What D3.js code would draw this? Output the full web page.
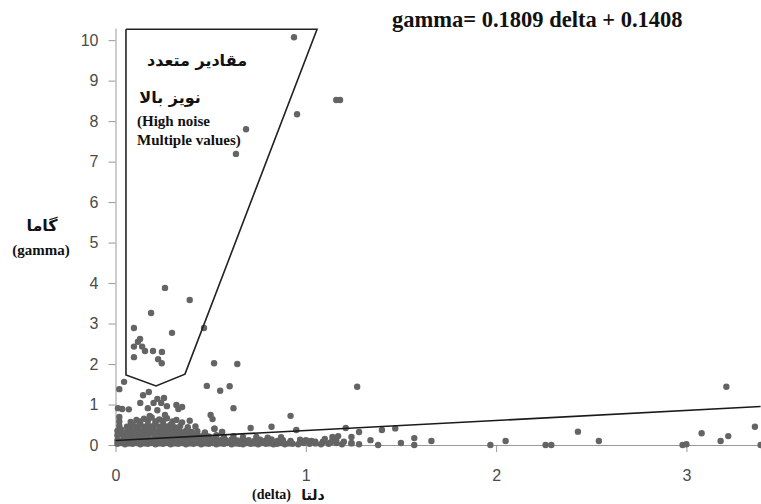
<!DOCTYPE html>
<html>
<head>
<meta charset="utf-8">
<script src="https://cdn.jsdelivr.net/npm/d3@7"></script>
<style>
  body { margin: 0; background: #fff; }
  svg { display: block; }
  .tick text { font-family: "Liberation Sans", Arial, sans-serif; font-size: 16px; fill: #4a4a4a; }
  .tick line, .domain { stroke: #999; }
  .serif-b { font-family: "Liberation Serif", "Times New Roman", serif; font-weight: bold; fill: #111; }
  .fa-b { font-family: "DejaVu Sans", sans-serif; font-weight: bold; fill: #111; }
</style>
</head>
<body>
<div id="chart"></div>
<script>
// ---- data ----
const xTicks = [0, 1, 2, 3];
const yTicks = [0, 1, 2, 3, 4, 5, 6, 7, 8, 9, 10];

// dense band along the bottom
const bandLow = [[0.01,0.03],[0.03,0.05],[0.05,0.02],[0.07,0.04],[0.09,0.03],[0.11,0.05],[0.13,0.02],[0.15,0.04],[0.17,0.03],[0.19,0.05],[0.21,0.02],[0.23,0.04],[0.25,0.03],[0.27,0.05],[0.29,0.02],[0.31,0.04],[0.33,0.03],[0.35,0.05],[0.37,0.02],[0.39,0.04],[0.41,0.03],[0.43,0.05],[0.45,0.02],[0.47,0.04],[0.49,0.03],[0.51,0.05],[0.53,0.02],[0.55,0.04],[0.57,0.03],[0.59,0.05],[0.61,0.02],[0.63,0.04],[0.65,0.03],[0.67,0.02],[0.69,0.05],[0.71,0.03],[0.73,0.04],[0.75,0.02],[0.77,0.05],[0.79,0.03],[0.81,0.04],[0.83,0.02],[0.85,0.03],[0.87,0.05],[0.89,0.02],[0.91,0.04],[0.93,0.03],[0.96,0.02],[0.99,0.05],[1.02,0.03],[1.05,0.04],[1.08,0.02],[1.12,0.03],[1.16,0.05],[1.19,0.02],[1.24,0.04],[1.28,0.02]];
const bandMid = [[0.01,0.12],[0.04,0.14],[0.06,0.11],[0.08,0.15],[0.10,0.12],[0.12,0.14],[0.14,0.11],[0.16,0.15],[0.18,0.12],[0.20,0.14],[0.22,0.11],[0.24,0.15],[0.26,0.12],[0.28,0.14],[0.30,0.11],[0.32,0.15],[0.34,0.12],[0.36,0.14],[0.38,0.11],[0.40,0.15],[0.42,0.12],[0.44,0.14],[0.46,0.11],[0.48,0.13],[0.50,0.12],[0.52,0.15],[0.54,0.11],[0.56,0.13],[0.58,0.12],[0.61,0.14],[0.64,0.11],[0.67,0.13],[0.70,0.12],[0.73,0.10],[0.76,0.13],[0.79,0.11],[0.82,0.14],[0.85,0.10],[0.88,0.12],[0.92,0.10],[0.97,0.13],[1.03,0.10],[1.09,0.08],[1.14,0.11]];
// the blob near the origin
const blob1 = [[0.01,0.24],[0.03,0.27],[0.05,0.22],[0.07,0.26],[0.09,0.23],[0.11,0.27],[0.13,0.22],[0.15,0.26],[0.17,0.24],[0.19,0.28],[0.21,0.22],[0.23,0.26],[0.25,0.23],[0.27,0.27],[0.29,0.22],[0.31,0.25],[0.33,0.23],[0.35,0.27],[0.37,0.22],[0.39,0.25],[0.41,0.22],[0.43,0.26],[0.46,0.23],[0.49,0.21],[0.53,0.24],[0.57,0.2],[0.62,0.22],[0.67,0.19],[0.74,0.2],[0.8,0.18],[0.87,0.19]];
const blob2 = [[0.01,0.35],[0.03,0.38],[0.06,0.33],[0.08,0.37],[0.10,0.34],[0.12,0.38],[0.14,0.33],[0.16,0.37],[0.18,0.35],[0.20,0.39],[0.22,0.33],[0.24,0.37],[0.26,0.34],[0.28,0.38],[0.30,0.33],[0.32,0.36],[0.34,0.33],[0.37,0.35],[0.40,0.32],[0.43,0.34],[0.47,0.31],[0.52,0.4],[0.56,0.32]];
const blob3 = [[0.02,0.47],[0.06,0.45],[0.09,0.5],[0.11,0.46],[0.13,0.51],[0.15,0.45],[0.17,0.49],[0.19,0.46],[0.21,0.52],[0.23,0.45],[0.25,0.49],[0.27,0.46],[0.29,0.5],[0.31,0.44],[0.34,0.47],[0.38,0.44],[0.42,0.46]];
const blobTop = [[0.02,0.58],[0.08,0.57],[0.11,0.62],[0.13,0.58],[0.15,0.65],[0.17,0.6],[0.19,0.68],[0.21,0.58],[0.23,0.63],[0.25,0.6],[0.27,0.66],[0.30,0.58],[0.32,0.62],[0.35,0.56],[0.39,0.6],[0.02,0.69],[0.18,0.72],[0.26,0.74]];
// scattered points above the blob
const nearBlob = [[0.013,0.91],[0.035,0.89],[0.07,0.88],[0.17,0.91],[0.22,0.86],[0.13,1.04],[0.2,1.04],[0.24,1.04],[0.27,0.96],[0.32,0.99],[0.33,0.89],[0.35,0.94],[0.22,1.14],[0.255,1.16],[0.145,1.23],[0.175,1.31],[0.02,1.38],[0.045,1.56],
  [0.48,1.46],[0.55,1.34],[0.6,1.45],[0.62,0.91],[0.5,0.74],[0.51,0.64],[0.52,0.4],[0.56,0.32],[0.71,0.42],[0.82,0.45],[0.92,0.72],[0.95,0.37],[0.518,2.02],[0.64,2.0]];
// points inside the high-noise region
const noisy = [[0.26,3.88],[0.39,3.58],[0.187,3.26],[0.097,2.89],[0.297,2.77],[0.465,2.89],[0.118,2.55],[0.129,2.62],[0.097,2.43],[0.14,2.43],[0.155,2.32],[0.197,2.32],[0.244,2.3],[0.224,2.12],[0.243,2.02],[0.097,2.17],
  [0.938,10.07],[0.954,8.17],[1.16,8.52],[1.18,8.52],[0.686,7.8],[0.633,7.19]];
// long tail to the right
const tail = [[1.0,0.12],[1.01,0.1],[1.05,0.08],[1.09,0.07],[1.1,0.15],[1.13,0.06],[1.14,0.2],[1.16,0.12],[1.17,0.22],[1.2,0.08],[1.21,0.42],[1.24,0.2],[1.24,0.05],[1.27,1.44],[1.28,0.32],[1.34,0.12],[1.38,0.0],[1.4,0.37],[1.47,0.41],[1.5,0.05],[1.57,0.17],[1.57,0.0],[1.66,0.1],[1.97,0.0],[2.05,0.1],[2.26,0.0],[2.29,0.0],[2.43,0.33],[2.54,0.1],[2.98,0.0],[3.0,0.02],[3.08,0.29],[3.18,0.1],[3.22,0.22],[3.21,1.44],[3.36,0.45],[3.39,0.0]];

// fitted line as drawn (end points)
const trendDelta = [0, 3.39];
const trendGamma = [0.11, 0.95];

// outline of the "high noise" region, in data units
const regionDelta = [0.055, 1.059, 0.365, 0.213, 0.055, 0.055];
const regionGamma = [10.27, 10.27, 1.75, 1.46, 1.73, 10.27];

const points = [].concat(bandLow, bandMid, blob1, blob2, blob3, blobTop, nearBlob, noisy, tail);

// ---- layout ----
const W = 761, H = 504;
const svg = d3.select("#chart").append("svg").attr("width", W).attr("height", H);

const x = d3.scaleLinear().domain([0, 3.392]).range([115.5, 761]);
const y = d3.scaleLinear().domain([0, 10.3]).range([445, 28]);

// axes
svg.append("g")
  .attr("transform", `translate(0,${y(0)})`)
  .call(d3.axisBottom(x).tickValues(xTicks).tickFormat(d3.format("d"))
    .tickSize(7).tickSizeOuter(0).tickPadding(18));

svg.append("g")
  .attr("transform", `translate(${x(0)},0)`)
  .call(d3.axisLeft(y).tickValues(yTicks).tickFormat(d3.format("d"))
    .tickSize(7).tickSizeOuter(0).tickPadding(10));

// dots
svg.append("g").selectAll("circle")
  .data(points)
  .join("circle")
  .attr("cx", d => x(d[0]))
  .attr("cy", d => y(d[1]))
  .attr("r", 3.2)
  .attr("fill", "#646464");

// trend line
svg.append("line")
  .attr("x1", x(trendDelta[0])).attr("y1", y(trendGamma[0]))
  .attr("x2", x(trendDelta[1])).attr("y2", y(trendGamma[1]))
  .attr("stroke", "#1a1a1a").attr("stroke-width", 1.6);

// region outline
const region = regionDelta.map((d, i) => [x(d), y(regionGamma[i])]);
svg.append("path")
  .attr("d", d3.line()(region))
  .attr("fill", "none")
  .attr("stroke", "#222")
  .attr("stroke-width", 1.6)
  .attr("stroke-linejoin", "miter");

// annotation text
svg.append("text").attr("class", "fa-b").attr("x", 197).attr("y", 66)
  .attr("text-anchor", "middle").style("font-size", "16px")
  .text("مقادیر متعدد");
svg.append("text").attr("class", "fa-b").attr("x", 170).attr("y", 103)
  .attr("text-anchor", "middle").style("font-size", "16px")
  .text("نویز بالا");
svg.append("text").attr("class", "serif-b").attr("x", 137).attr("y", 126)
  .style("font-size", "15px").text("(High noise");
svg.append("text").attr("class", "serif-b").attr("x", 137).attr("y", 145)
  .style("font-size", "15px").text("Multiple values)");

// equation
svg.append("text").attr("class", "serif-b").attr("x", 392).attr("y", 27)
  .style("font-size", "22.5px").text("gamma= 0.1809 delta + 0.1408");

// axis titles
svg.append("text").attr("class", "fa-b").attr("x", 42).attr("y", 231)
  .attr("text-anchor", "middle").style("font-size", "16px").text("گاما");
svg.append("text").attr("class", "serif-b").attr("x", 41).attr("y", 255)
  .attr("text-anchor", "middle").style("font-size", "15px").text("(gamma)");

svg.append("text").attr("class", "serif-b").attr("x", 291).attr("y", 499)
  .attr("text-anchor", "end").style("font-size", "14px").text("(delta)");
svg.append("text").attr("class", "fa-b").attr("x", 313).attr("y", 500)
  .attr("text-anchor", "middle").style("font-size", "14px").text("دلتا");
</script>
</body>
</html>
